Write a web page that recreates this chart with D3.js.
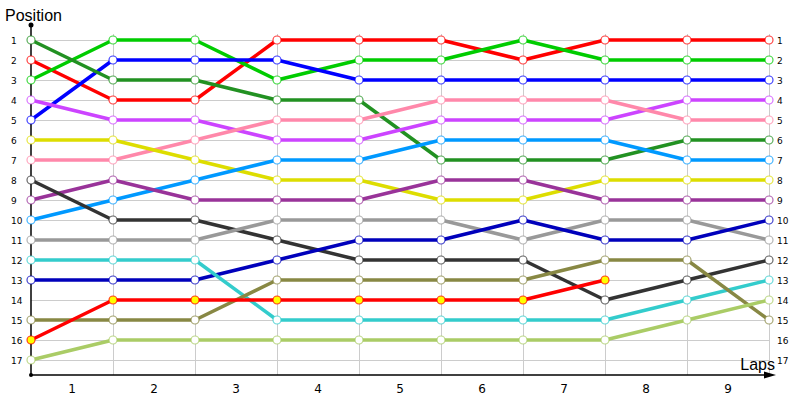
<!DOCTYPE html>
<html>
<head>
<meta charset="utf-8">
<script src="https://cdn.jsdelivr.net/npm/d3@7"></script>
<style>
  html, body { margin: 0; padding: 0; background: #fff; }
  svg { display: block; }
</style>
</head>
<body>
<svg id="chart" width="800" height="400"></svg>
<script>
// ---- data ----
const laps = [0, 1, 2, 3, 4, 5, 6, 7, 8, 9];
const lapLabels = ["1", "2", "3", "4", "5", "6", "7", "8", "9"];
const positions = d3.range(1, 18);

const seriesNames = ["A", "B", "C", "D", "E", "F", "G", "H", "I", "J", "K", "L", "M", "N", "O", "P"];
const seriesColors = ["#ff0000", "#00cc00", "#0000ff", "#229122", "#cc44ff", "#ff88aa", "#dddd00",
  "#0099ff", "#993399", "#333333", "#999999", "#0000bb", "#33cccc", "#888844", "#ff0000", "#aacc66"];
const markerFills = ["#fff", "#fff", "#fff", "#fff", "#fff", "#fff", "#fff", "#fff", "#fff", "#fff",
  "#fff", "#fff", "#fff", "#fff", "#ffff00", "#fff"];
const seriesPositions = [
  [2, 4, 4, 1, 1, 1, 2, 1, 1, 1],
  [3, 1, 1, 3, 2, 2, 1, 2, 2, 2],
  [5, 2, 2, 2, 3, 3, 3, 3, 3, 3],
  [1, 3, 3, 4, 4, 7, 7, 7, 6, 6],
  [4, 5, 5, 6, 6, 5, 5, 5, 4, 4],
  [7, 7, 6, 5, 5, 4, 4, 4, 5, 5],
  [6, 6, 7, 8, 8, 9, 9, 8, 8, 8],
  [10, 9, 8, 7, 7, 6, 6, 6, 7, 7],
  [9, 8, 9, 9, 9, 8, 8, 9, 9, 9],
  [8, 10, 10, 11, 12, 12, 12, 14, 13, 12],
  [11, 11, 11, 10, 10, 10, 11, 10, 10, 11],
  [13, 13, 13, 12, 11, 11, 10, 11, 11, 10],
  [12, 12, 12, 15, 15, 15, 15, 15, 14, 13],
  [15, 15, 15, 13, 13, 13, 13, 12, 12, 15],
  [16, 14, 14, 14, 14, 14, 14, 13],
  [17, 16, 16, 16, 16, 16, 16, 16, 15, 14]
];

// ---- layout ----
const svg = d3.select("#chart");
const x = d3.scaleLinear().domain([0, 9]).range([31, 769]);
const y = d3.scaleLinear().domain([1, 17]).range([40, 360]);
const axisY = 375;

// gridlines
const grid = svg.append("g");
grid.selectAll("line.h").data(positions).join("line")
  .attr("x1", x(0)).attr("x2", x(9))
  .attr("y1", d => y(d) + 0.5).attr("y2", d => y(d) + 0.5)
  .attr("stroke", "#cccccc").attr("stroke-width", 1);
grid.selectAll("line.v").data(laps.slice(1)).join("line")
  .attr("x1", d => Math.round(x(d)) + 0.5).attr("x2", d => Math.round(x(d)) + 0.5)
  .attr("y1", 34).attr("y2", axisY)
  .attr("stroke", "#cccccc").attr("stroke-width", 1);

// axes
svg.append("line").attr("x1", x(0)).attr("x2", x(0)).attr("y1", 25).attr("y2", axisY)
  .attr("stroke", "#000").attr("stroke-width", 1.5);
svg.append("line").attr("x1", x(0)).attr("x2", 766).attr("y1", axisY).attr("y2", axisY)
  .attr("stroke", "#000").attr("stroke-width", 1.5);
svg.append("path").attr("d", `M764,${axisY - 3.5} L776,${axisY} L764,${axisY + 3.5} Z`).attr("fill", "#000");
svg.append("circle").attr("cx", x(0)).attr("cy", 25).attr("r", 2.5).attr("fill", "#000");
svg.append("circle").attr("cx", x(0)).attr("cy", axisY).attr("r", 2).attr("fill", "#000");

// position labels
const labFont = "'DejaVu Sans', Verdana, sans-serif";
svg.append("g").selectAll("text").data(positions).join("text")
  .attr("x", 11).attr("y", d => y(d) + 3.5)
  .attr("font-family", labFont).attr("font-size", 9).attr("fill", "#000")
  .text(d => d);
svg.append("g").selectAll("text").data(positions).join("text")
  .attr("x", 777).attr("y", d => y(d) + 3.5)
  .attr("font-family", labFont).attr("font-size", 9).attr("fill", "#000")
  .text(d => d);

// lap labels
svg.append("g").selectAll("text").data(lapLabels).join("text")
  .attr("x", (d, i) => (x(i) + x(i + 1)) / 2).attr("y", 393)
  .attr("text-anchor", "middle")
  .attr("font-family", labFont).attr("font-size", 12).attr("fill", "#000")
  .text(d => d);

// titles
svg.append("text").attr("x", 5).attr("y", 21)
  .attr("font-family", "'Liberation Sans', Arial, sans-serif").attr("font-size", 16)
  .text("Position");
svg.append("text").attr("x", 775).attr("y", 370).attr("text-anchor", "end")
  .attr("font-family", "'Liberation Sans', Arial, sans-serif").attr("font-size", 16)
  .text("Laps");

// series lines
const line = d3.line().x((d, i) => x(laps[i])).y(d => y(d));
const series = seriesNames.map((n, i) => ({ name: n, color: seriesColors[i], fill: markerFills[i], pos: seriesPositions[i] }));

svg.append("g").selectAll("path").data(series).join("path")
  .attr("d", d => line(d.pos))
  .attr("fill", "none").attr("stroke", d => d.color).attr("stroke-width", 3.5)
  .attr("stroke-linejoin", "round");

const mk = svg.append("g");
series.forEach(s => {
  mk.append("g").selectAll("circle").data(s.pos).join("circle")
    .attr("cx", (d, i) => x(laps[i])).attr("cy", d => y(d))
    .attr("r", 4).attr("fill", s.fill)
    .attr("stroke", s.color).attr("stroke-opacity", 0.75).attr("stroke-width", 1.2);
});
</script>
</body>
</html>
